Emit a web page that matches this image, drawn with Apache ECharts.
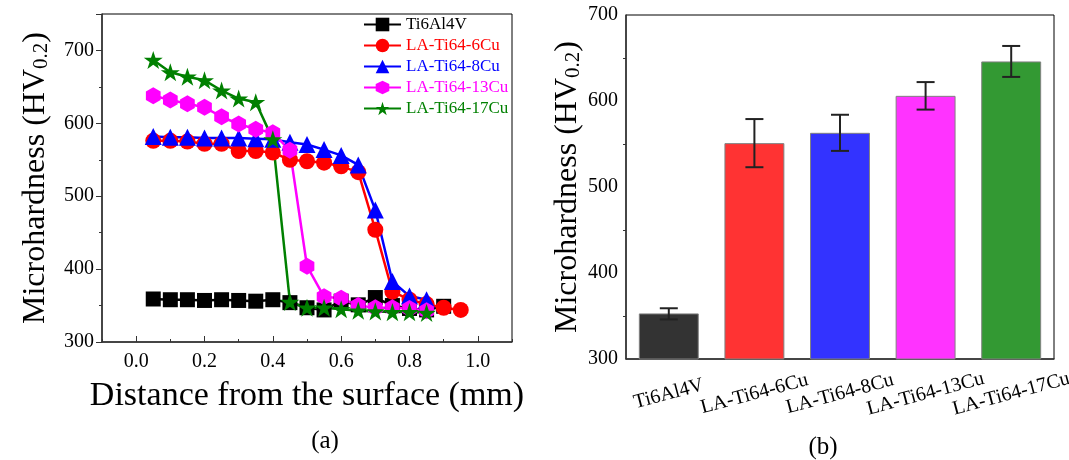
<!DOCTYPE html>
<html>
<head>
<meta charset="utf-8">
<script src="https://cdn.jsdelivr.net/npm/echarts@6/dist/echarts.min.js"></script>
<style>html,body{margin:0;background:#fff}</style>
</head>
<body>
<div id="chart" style="width:1069px;height:460px"></div>
<script>
// (a) hardness profile vs depth
const distance = [0.05, 0.10, 0.15, 0.20, 0.25, 0.30, 0.35, 0.40, 0.45, 0.50,
                  0.55, 0.60, 0.65, 0.70, 0.75, 0.80, 0.85, 0.90, 0.95];
const hvTi6Al4V = [359, 358, 358, 357, 358, 357, 356, 358, 354, 347, 344, 356, 351, 361, 350, 346, 344, 349];
const hvCu6  = [576, 576, 575, 572, 572, 562, 562, 560, 550, 548, 546, 541, 533, 454, 369, 358, 352, 347, 344];
const hvCu8  = [582, 581, 581, 580, 580, 580, 579, 578, 574, 571, 564, 556, 543, 481, 383, 363, 358];
const hvCu13 = [638, 632, 627, 622, 609, 599, 592, 587, 563, 404, 362, 360, 350, 347, 347, 346, 343];
const hvCu17 = [687, 670, 664, 659, 645, 634, 629, 578, 355, 347, 347, 345, 343, 342, 341, 341, 340];
const xTicks = [0.0, 0.2, 0.4, 0.6, 0.8, 1.0];

// (b) average hardness
const samples = ['Ti6Al4V', 'LA-Ti64-6Cu', 'LA-Ti64-8Cu', 'LA-Ti64-13Cu', 'LA-Ti64-17Cu'];
const avgHV = [353, 551, 563, 606, 646];
const errLow = [346, 523, 542, 590, 628];
const errHigh = [359, 579, 584, 622, 664];
const barColors = ['#333333', '#ff3333', '#3333ff', '#ff33ff', '#339933'];

const FONT = 'Liberation Serif';
const HEX = 'path://M0,-100 L86.6,-50 L86.6,50 L0,100 L-86.6,50 L-86.6,-50 Z';
const STAR = 'path://M0,-100 L22.45,-30.9 L95.1,-30.9 L36.3,11.8 L58.8,80.9 L0,38.2 L-58.8,80.9 L-36.3,11.8 L-95.1,-30.9 L-22.45,-30.9 Z';

function pairs(ys) {
    return ys.map(function (y, i) { return [distance[i], y]; });
}

const profiles = [
    {name: 'Ti6Al4V', color: '#000000', symbol: 'rect', size: 15, data: hvTi6Al4V},
    {name: 'LA-Ti64-6Cu', color: '#ff0000', symbol: 'circle', size: 16, data: hvCu6},
    {name: 'LA-Ti64-8Cu', color: '#0000ff', symbol: 'triangle', size: 17, data: hvCu8},
    {name: 'LA-Ti64-13Cu', color: '#ff00ff', symbol: HEX, size: 17, data: hvCu13},
    {name: 'LA-Ti64-17Cu', color: '#008000', symbol: STAR, size: 19, data: hvCu17}
];

const yName = '{t|Microhardness (HV}{s|0.2}{t|)}';
const yNameStyle = {
    rich: {
        t: {fontFamily: FONT, fontSize: 32, lineHeight: 40, verticalAlign: 'bottom', color: '#000'},
        s: {fontFamily: FONT, fontSize: 21, lineHeight: 21, verticalAlign: 'bottom', color: '#000'}
    },
    verticalAlign: 'middle'
};
const axisLabelStyle = {fontFamily: FONT, fontSize: 20, color: '#000'};

const series = profiles.map(function (p) {
    return {
        name: p.name,
        type: 'line',
        xAxisIndex: 0,
        yAxisIndex: 0,
        data: pairs(p.data),
        symbol: p.symbol,
        symbolSize: p.size,
        symbolKeepAspect: true,
        color: p.color,
        lineStyle: {color: p.color, width: 2.5},
        itemStyle: {color: p.color},
        animation: false
    };
});

series.push({
    type: 'bar',
    xAxisIndex: 2,
    yAxisIndex: 1,
    barWidth: '70%',
    data: avgHV.map(function (v, i) {
        return {value: v, itemStyle: {color: barColors[i]}};
    }),
    itemStyle: {borderColor: '#808080', borderWidth: 1},
    animation: false
});

series.push({
    type: 'custom',
    xAxisIndex: 2,
    yAxisIndex: 1,
    data: errLow.map(function (lo, i) { return [i, lo, errHigh[i]]; }),
    renderItem: function (params, api) {
        const lo = api.coord([api.value(0), api.value(1)]);
        const hi = api.coord([api.value(0), api.value(2)]);
        const w = 9;
        const st = {stroke: '#222', lineWidth: 2};
        return {
            type: 'group',
            children: [
                {type: 'line', shape: {x1: lo[0], y1: lo[1], x2: hi[0], y2: hi[1]}, style: st},
                {type: 'line', shape: {x1: lo[0] - w, y1: lo[1], x2: lo[0] + w, y2: lo[1]}, style: st},
                {type: 'line', shape: {x1: hi[0] - w, y1: hi[1], x2: hi[0] + w, y2: hi[1]}, style: st}
            ]
        };
    },
    z: 10,
    animation: false
});

const option = {
    backgroundColor: '#fff',
    animation: false,
    grid: [
        {left: 102, top: 14, right: 557, bottom: 118, show: true, borderColor: '#000', borderWidth: 1,
         outerBoundsMode: 'none'},
        {left: 626, top: 15, right: 15, bottom: 101, show: true, borderColor: '#000', borderWidth: 1,
         outerBoundsMode: 'none'}
    ],
    legend: {
        orient: 'vertical',
        left: 358,
        top: 11,
        itemWidth: 37,
        itemHeight: 17,
        itemGap: 4,
        textStyle: {fontFamily: FONT, fontSize: 17},
        data: profiles.map(function (p) {
            return {name: p.name, textStyle: {color: p.color}};
        })
    },
    xAxis: [
        {
            gridIndex: 0,
            type: 'value',
            min: -0.1,
            max: 1.1,
            name: 'Distance from the surface (mm)',
            nameLocation: 'middle',
            nameGap: 54,
            nameTextStyle: {fontFamily: FONT, fontSize: 34, color: '#000', verticalAlign: 'middle'},
            axisLine: {onZero: false, lineStyle: {color: '#333', width: 1.5}},
            axisTick: {inside: true, length: 6, customValues: xTicks, lineStyle: {color: '#333'}},
            axisLabel: Object.assign({margin: 10, customValues: xTicks,
                formatter: function (v) { return v.toFixed(1); }}, axisLabelStyle),
            splitLine: {show: false}
        },
        {
            // minor ticks every 0.1
            gridIndex: 0,
            type: 'value',
            min: -0.1,
            max: 1.1,
            interval: 0.1,
            position: 'bottom',
            axisLine: {show: false, onZero: false},
            axisTick: {inside: true, length: 3, lineStyle: {color: '#333'}},
            axisLabel: {show: false},
            splitLine: {show: false}
        },
        {
            gridIndex: 1,
            type: 'category',
            data: samples,
            axisLine: {lineStyle: {color: '#333', width: 1.5}},
            axisTick: {inside: true, length: 6, alignWithLabel: true, lineStyle: {color: '#333'}},
            axisLabel: {fontFamily: FONT, fontSize: 20, color: '#000', rotate: 15,
                align: 'center', verticalAlign: 'middle', margin: 35, interval: 0}
        }
    ],
    yAxis: [
        {
            gridIndex: 0,
            type: 'value',
            min: 300,
            max: 750,
            interval: 100,
            name: yName,
            nameLocation: 'middle',
            nameGap: 70,
            nameTextStyle: yNameStyle,
            axisLine: {show: true, onZero: false, lineStyle: {color: '#333', width: 1.5}},
            axisTick: {length: 6, lineStyle: {color: '#333'}},
            minorTick: {show: true, splitNumber: 2, length: 3, lineStyle: {color: '#333'}},
            axisLabel: Object.assign({margin: 8, showMaxLabel: false}, axisLabelStyle),
            splitLine: {show: false}
        },
        {
            gridIndex: 1,
            type: 'value',
            min: 300,
            max: 700,
            interval: 100,
            name: yName,
            nameLocation: 'middle',
            nameGap: 62,
            nameTextStyle: yNameStyle,
            axisLine: {show: true, lineStyle: {color: '#333', width: 1.5}},
            axisTick: {length: 6, lineStyle: {color: '#333'}},
            minorTick: {show: true, splitNumber: 2, length: 3, lineStyle: {color: '#333'}},
            axisLabel: Object.assign({margin: 8}, axisLabelStyle),
            splitLine: {show: false}
        }
    ],
    graphic: [
        {type: 'text', x: 325, y: 441, style: {text: '(a)', font: '25px "Liberation Serif"', fill: '#000', align: 'center', verticalAlign: 'middle'}},
        {type: 'text', x: 823, y: 447, style: {text: '(b)', font: '25px "Liberation Serif"', fill: '#000', align: 'center', verticalAlign: 'middle'}}
    ],
    series: series
};

const myChart = echarts.init(document.getElementById('chart'));
myChart.setOption(option);
window.addEventListener('resize', () => { myChart.resize(); });
</script>
</body>
</html>
